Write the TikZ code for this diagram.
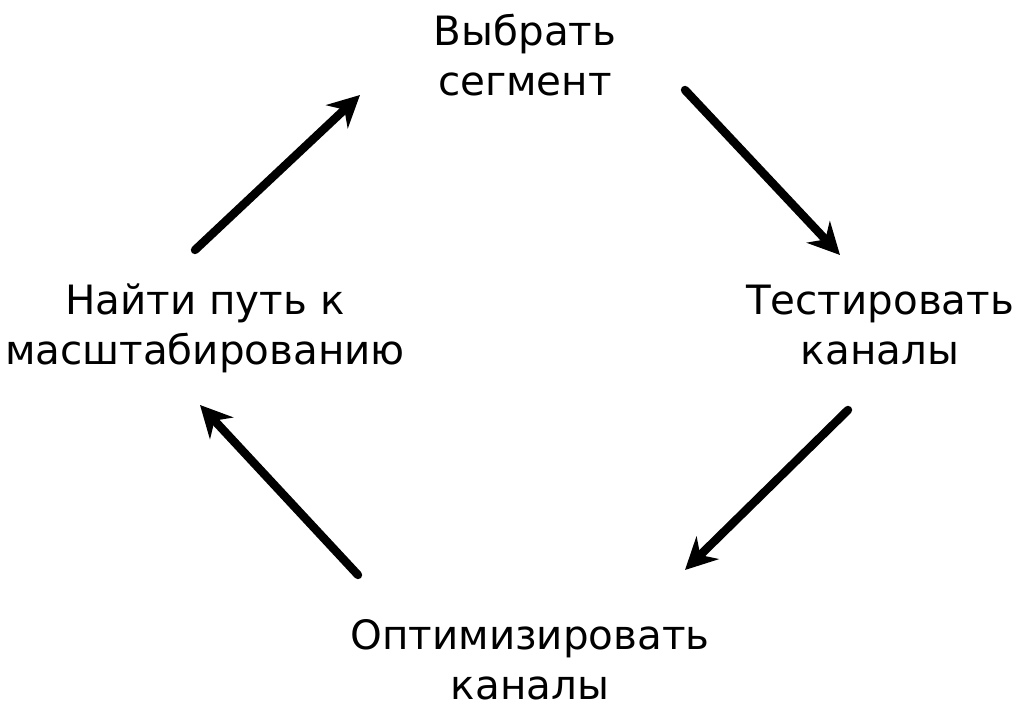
\documentclass[tikz,border=0pt]{standalone}
\usepackage{fontspec}
\setmainfont{DejaVu Sans}
\usetikzlibrary{arrows.meta}

\begin{document}
\begin{tikzpicture}
\tikzstyle{step text}=[align=center,inner sep=0pt,font=\fontsize{11.5}{14.2}\selectfont]
\tikzstyle{every node}=[step text]
\tikzstyle{cycle arrow}=[line width=2.4pt,line cap=round,-{Stealth[length=9pt,width=9pt]}]
\useasboundingbox (0,0) rectangle (10.24,7.13);
\node (seg) at (5.25,6.58) {Выбрать\\сегмент};
\node (test) at (8.80,3.88) {Тестировать\\каналы};
\node (opt) at (5.30,0.53) {Оптимизировать\\каналы};
\node (scale) at (2.05,3.85) {Найти путь к\\масштабированию};
\draw[cycle arrow] ([shift={(1.60,-0.35)}]seg.center) -- ([shift={(-0.40,0.70)}]test.center);
\draw[cycle arrow] ([shift={(-0.32,-0.85)}]test.center) -- ([shift={(1.55,0.90)}]opt.center);
\draw[cycle arrow] ([shift={(-1.72,0.85)}]opt.center) -- ([shift={(-0.05,-0.77)}]scale.center);
\draw[cycle arrow] ([shift={(-0.10,0.78)}]scale.center) -- ([shift={(-1.65,-0.40)}]seg.center);
\end{tikzpicture}
\end{document}
